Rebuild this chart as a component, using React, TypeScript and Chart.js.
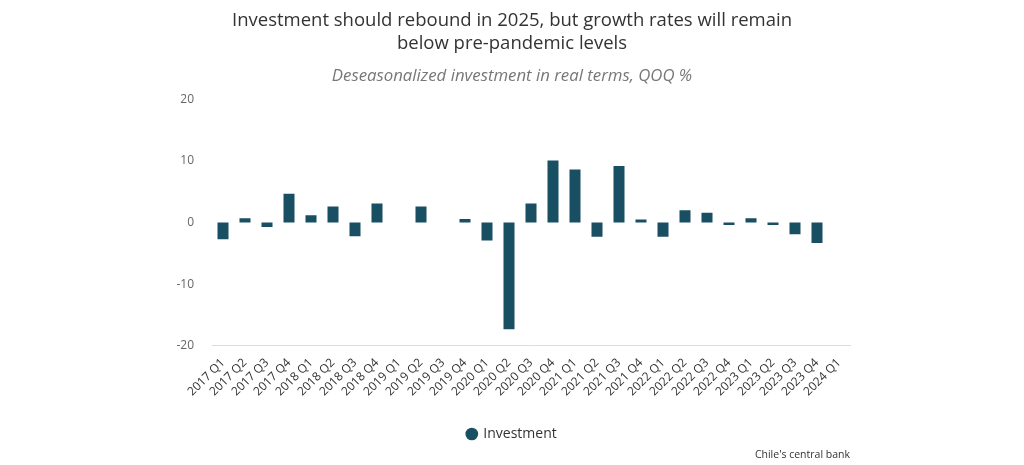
import React, { useEffect, useRef } from "react";
import { Chart, registerables } from "chart.js";

Chart.register(...registerables);

const categories: string[] = [
  "2017 Q1", "2017 Q2", "2017 Q3", "2017 Q4",
  "2018 Q1", "2018 Q2", "2018 Q3", "2018 Q4",
  "2019 Q1", "2019 Q2", "2019 Q3", "2019 Q4",
  "2020 Q1", "2020 Q2", "2020 Q3", "2020 Q4",
  "2021 Q1", "2021 Q2", "2021 Q3", "2021 Q4",
  "2022 Q1", "2022 Q2", "2022 Q3", "2022 Q4",
  "2023 Q1", "2023 Q2", "2023 Q3", "2023 Q4",
  "2024 Q1",
];

const investment: (number | null)[] = [
  -2.7, 0.7, -0.7, 4.7,
  1.2, 2.6, -2.2, 3.1,
  null, 2.6, null, 0.6,
  -2.9, -17.3, 3.1, 10.1,
  8.6, -2.3, 9.2, 0.5,
  -2.3, 2.0, 1.6, -0.4,
  0.7, -0.4, -1.9, -3.3,
  null,
];

const yTicks: number[] = [-20, -10, 0, 10, 20];

const titleLines: string[] = [
  "Investment should rebound in 2025, but growth rates will remain",
  "below pre-pandemic levels",
];
const subtitleText = "Deseasonalized investment in real terms, QOQ %";
const seriesName = "Investment";
const sourceText = "Chile's central bank";

const FONT = "'Open Sans', 'Noto Sans', sans-serif";
const BAR_COLOR = "#184f62";

export default function App() {
  const canvasRef = useRef<HTMLCanvasElement | null>(null);

  useEffect(() => {
    document.body.style.margin = "0";
    const canvas = canvasRef.current;
    if (!canvas) return;

    const sourcePlugin = {
      id: "sourceText",
      afterDraw(chart: any) {
        const ctx = chart.ctx;
        ctx.save();
        ctx.font = `10.5px ${FONT}`;
        ctx.fillStyle = "#333";
        ctx.textAlign = "right";
        ctx.textBaseline = "middle";
        ctx.fillText(sourceText, 850, 455);
        ctx.restore();
      },
    };

    const chart = new Chart(canvas, {
      type: "bar",
      data: {
        labels: categories,
        datasets: [
          {
            label: seriesName,
            data: investment,
            backgroundColor: BAR_COLOR,
            borderWidth: 0,
            barPercentage: 0.5,
            categoryPercentage: 1,
          },
        ],
      },
      options: {
        animation: false,
        responsive: false,
        maintainAspectRatio: false,
        layout: {
          padding: { left: 0, right: 0, top: 0, bottom: 14 },
        },
        plugins: {
          title: {
            display: true,
            text: titleLines,
            color: "#333",
            font: { family: FONT, size: 18.5, weight: "normal", lineHeight: 1.25 },
            padding: { top: 9, bottom: 11 },
          },
          subtitle: {
            display: true,
            text: subtitleText,
            color: "#777",
            font: { family: FONT, size: 16.8, style: "italic", weight: "normal", lineHeight: 1.2 },
            padding: { top: 0, bottom: 13 },
          },
          legend: {
            display: true,
            position: "bottom",
            labels: {
              usePointStyle: true,
              pointStyle: "circle",
              boxWidth: 9,
              boxHeight: 9,
              color: "#333",
              font: { family: FONT, size: 14 },
              padding: 26,
            },
          },
          tooltip: { enabled: false },
        },
        scales: {
          x: {
            grid: { display: false },
            border: { display: true, color: "#dcdcdc", width: 1 },
            ticks: {
              color: "#333",
              font: { family: FONT, size: 12 },
              maxRotation: 45,
              minRotation: 45,
              autoSkip: false,
              padding: 2,
            },
          },
          y: {
            min: -20,
            max: 20,
            grid: { display: false },
            border: { display: false },
            afterFit(scale: any) {
              scale.width = 212;
            },
            afterBuildTicks(scale: any) {
              scale.ticks = yTicks.map((v) => ({ value: v }));
            },
            ticks: {
              color: "#666",
              font: { family: FONT, size: 12 },
              padding: 10,
            },
          },
          yRight: {
            position: "right",
            display: true,
            grid: { display: false },
            border: { display: false },
            ticks: { display: false },
            afterFit(scale: any) {
              scale.width = 174;
            },
          },
        },
      },
      plugins: [sourcePlugin],
    });

    return () => {
      chart.destroy();
    };
  }, []);

  return (
    <div style={{ position: "absolute", left: 0, top: 0, width: 1024, height: 465 }}>
      <canvas ref={canvasRef} width={1024} height={465} style={{ width: 1024, height: 465 }} />
    </div>
  );
}
